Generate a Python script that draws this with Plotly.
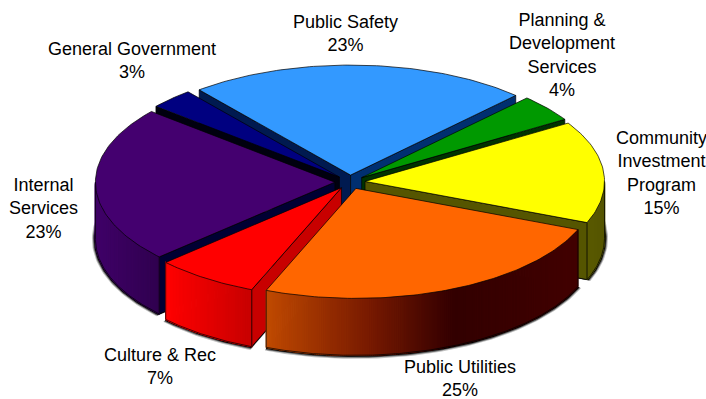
import math
import plotly.graph_objects as go

# Spending shares, listed clockwise from the start of the pie
categories = ["Public Safety", "Planning &<br>Development<br>Services", "Community<br>Investment<br>Program",
              "Public Utilities", "Culture & Rec", "Internal<br>Services", "General Government"]
values = [23, 4, 15, 25, 7, 23, 3]

top_colors = ["#3399FF", "#009900", "#FFFF00", "#FF6600", "#FF0000", "#44006F", "#000080"]
# Outer wall gradient stops: (fraction across the wedge's visible wall, colour)
wall_stops = [
    [(0, "#003070"), (1, "#003070")],
    [(0, "#004400"), (1, "#004400")],
    [(0, "#5A5A00"), (1, "#555500")],
    [(0, "#C04A00"), (0.33, "#781A00"), (0.6, "#330000"), (1, "#420000")],
    [(0, "#FF0000"), (1, "#C80000")],
    [(0, "#400068"), (1, "#30004F")],
    [(0, "#000050"), (1, "#000050")],
]
# Radial faces: leading edge and trailing edge of each wedge
start_faces = ["#001A50", None, None, None, "#C80000", "#000033", "#00000F"]
end_faces = ["#002F70", "#003300", "#555500", None, None, None, None]
# Back-to-front painting order
paint_order = [0, 6, 1, 5, 2, 4, 3]

label_pos = [(345, 33), (562, 55), (661, 173), (460, 378), (160, 366), (43, 208), (132, 60)]

CX, CY = 350.0, 182.0
RX, RY = 239.5, 110.0
DEPTH = 57.0
EXPLODE = 0.063
START_DEG = 129.2


def hex_rgb(h):
    return tuple(int(h[i:i + 2], 16) for i in (1, 3, 5))


def blend(stops, f):
    for (f0, c0), (f1, c1) in zip(stops, stops[1:]):
        if f <= f1:
            k = (f - f0) / max(f1 - f0, 1e-9)
            a, b = hex_rgb(c0), hex_rgb(c1)
            return "rgb(%d,%d,%d)" % tuple(round(a[i] + (b[i] - a[i]) * k) for i in range(3))
    return stops[-1][1]


def poly(fig, xs, ys, fill, line=None, width=0.7):
    fig.add_trace(go.Scatter(
        x=xs, y=ys, mode="lines", fill="toself", fillcolor=fill,
        line=dict(color=line or fill, width=width), hoverinfo="skip", showlegend=False,
    ))


def outline(fig, xs, ys):
    fig.add_trace(go.Scatter(
        x=xs, y=ys, mode="lines", line=dict(color="#000000", width=0.7),
        hoverinfo="skip", showlegend=False,
    ))


fig = go.Figure()

# Turn the shares into sweep angles
total = sum(values)
wedges = []
angle = START_DEG
for v in values:
    sweep = v / total * 360.0
    wedges.append((angle, angle - sweep))
    angle -= sweep


def apex_of(t0, t1):
    mid = math.radians((t0 + t1) / 2)
    return CX + RX * EXPLODE * math.cos(mid), CY - RY * EXPLODE * math.sin(mid)


def rim(ax, ay, deg, rx=RX, ry=RY, dy=0.0):
    r = math.radians(deg)
    return ax + rx * math.cos(r), ay - ry * math.sin(r) + dy


def arc_degrees(t0, t1, step=1.0):
    n = max(2, int(abs(t0 - t1) / step) + 1)
    return [t0 + (t1 - t0) * i / (n - 1) for i in range(n)]


for i in paint_order:
    t0, t1 = wedges[i]
    ax, ay = apex_of(t0, t1)

    # Soft drop shadow under the wedge's base
    for grow, alpha in ((3.5, 0.25), (2.5, 0.5), (1.5, 1.0)):
        pts = [rim(ax, ay, d, RX + grow, RY + grow, DEPTH) for d in arc_degrees(t0, t1)]
        if any(math.sin(math.radians(d)) < 0.3 for d in arc_degrees(t0, t1)):
            poly(fig, [ax] + [p[0] for p in pts] + [ax], [ay + DEPTH] + [p[1] for p in pts] + [ay + DEPTH],
                 "rgba(0,0,0,%g)" % alpha, "rgba(0,0,0,0)", 0)

    # Radial faces that turn towards the viewer
    for deg, colour in ((t0, start_faces[i]), (t1, end_faces[i])):
        if colour:
            ex, ey = rim(ax, ay, deg)
            poly(fig, [ax, ex, ex, ax, ax], [ay, ey, ey + DEPTH, ay + DEPTH, ay], colour, "#000000")

    # Outer wall, drawn as thin strips for the gradient
    front = [d for d in arc_degrees(t0, t1, 0.25) if math.sin(math.radians(d)) < 0]
    if len(front) > 1:
        step = 2
        xs_all = [rim(ax, ay, d)[0] for d in front]
        x_lo, x_hi = min(xs_all), max(xs_all)
        for k in range(0, len(front) - 1, step):
            a, b = front[k], front[min(k + step, len(front) - 1)]
            seg = [d for d in front[k:k + step + 1]]
            top = [rim(ax, ay, d) for d in seg]
            xs = [p[0] for p in top] + [p[0] for p in reversed(top)] + [top[0][0]]
            ys = [p[1] for p in top] + [p[1] + DEPTH for p in reversed(top)] + [top[0][1]]
            mid_x = (rim(ax, ay, a)[0] + rim(ax, ay, b)[0]) / 2
            f = (mid_x - x_lo) / max(x_hi - x_lo, 1)
            poly(fig, xs, ys, blend(wall_stops[i], f), None, 1.2)
        bottom = [rim(ax, ay, d, dy=DEPTH) for d in front]
        outline(fig, [p[0] for p in bottom], [p[1] for p in bottom])
        for d in (front[0], front[-1]):
            ex, ey = rim(ax, ay, d)
            outline(fig, [ex, ex], [ey, ey + DEPTH])

    # Top of the wedge
    pts = [rim(ax, ay, d) for d in arc_degrees(t0, t1)]
    poly(fig, [ax] + [p[0] for p in pts] + [ax], [ay] + [p[1] for p in pts] + [ay], top_colors[i], "#000000", 0.7)

for name, v, (lx, ly) in zip(categories, values, label_pos):
    fig.add_annotation(x=lx, y=ly, text=f"{name}<br>{v}%", showarrow=False, xanchor="center", yanchor="middle",
                       align="center", font=dict(family="Liberation Sans, Arial, sans-serif", size=18, color="#000000"))

fig.update_layout(
    width=706, height=399, margin=dict(l=0, r=0, t=0, b=0),
    paper_bgcolor="#FFFFFF", plot_bgcolor="#FFFFFF", showlegend=False,
    xaxis=dict(range=[0, 706], visible=False, fixedrange=True),
    yaxis=dict(range=[399, 0], visible=False, fixedrange=True),
)
fig.write_html("out.html", config={"displayModeBar": False})
